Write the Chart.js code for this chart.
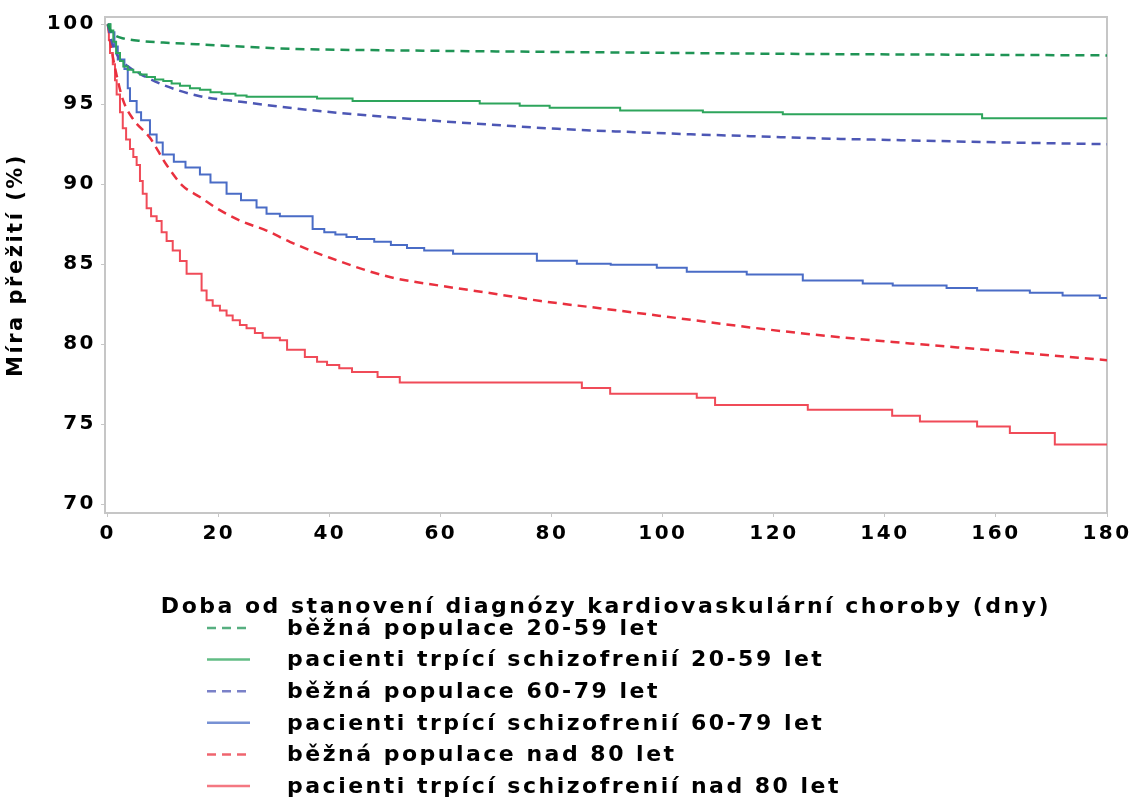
<!DOCTYPE html>
<html>
<head>
<meta charset="utf-8">
<script src="https://cdn.jsdelivr.net/npm/chart.js@4.4.1/dist/chart.umd.min.js"></script>
<style>
  html, body { margin: 0; padding: 0; background: #fff; }
</style>
</head>
<body>
<canvas id="km_chart" width="1135" height="802"></canvas>
<script>
// axis ticks
const xTicks = [0, 20, 40, 60, 80, 100, 120, 140, 160, 180];
const yTicks = [70, 75, 80, 85, 90, 95, 100];

// běžná populace 20-59 let (smooth curve)
const daysPop2059 = [0, 0.5, 1.3, 3, 6, 10, 16, 25, 34, 50, 70, 90, 110, 130, 150, 180];
const survPop2059 = [100, 99.6, 99.3, 99.1, 98.95, 98.85, 98.75, 98.58, 98.45, 98.37, 98.3, 98.24, 98.18, 98.13, 98.1, 98.05];

// pacienti trpící schizofrenií 20-59 let (steps)
const daysSch2059 = [0, 0.5, 1, 1.5, 2.2, 2.8, 3.6, 4.6, 5.8, 7, 8.5, 10, 11.5, 13, 14.8, 16.6, 18.5, 20.5, 23, 25, 37.7, 44.1, 67, 74.2, 79.6, 92.3, 107.2, 121.6, 157.5, 180];
const survSch2059 = [100, 99.6, 98.9, 98.2, 97.7, 97.35, 97.15, 97.0, 96.85, 96.7, 96.55, 96.45, 96.3, 96.15, 96.0, 95.9, 95.75, 95.65, 95.55, 95.47, 95.36, 95.2, 95.05, 94.9, 94.78, 94.6, 94.49, 94.37, 94.12, 94.12];

// běžná populace 60-79 let
const daysPop6079 = [0, 0.5, 1, 2, 3.5, 5.8, 10, 16.6, 24, 34.6, 45, 56.8, 70, 81, 93, 105, 116, 126.5, 143, 160, 180];
const survPop6079 = [100, 99.2, 98.6, 97.9, 97.4, 96.9, 96.2, 95.5, 95.15, 94.7, 94.35, 94.02, 93.7, 93.46, 93.28, 93.12, 93.0, 92.88, 92.75, 92.62, 92.5];

// pacienti trpící schizofrenií 60-79 let
const daysSch6079 = [0, 0.4, 1.2, 1.8, 3, 3.6, 4, 5.2, 6, 7.6, 8.8, 9.9, 11.9, 14, 16.6, 18.5, 21.4, 24, 26.8, 28.6, 31, 32.8, 36.9, 39, 41, 43, 44.9, 48, 51, 53.9, 57, 62.2, 77.3, 84.5, 90.6, 98.9, 104.3, 115.1, 125.2, 136, 141.4, 151.1, 156.6, 166.1, 172, 178.7, 180];
const survSch6079 = [100, 99.5, 98.6, 97.8, 97.2, 96.0, 95.2, 94.5, 94.0, 93.1, 92.6, 91.85, 91.4, 91.05, 90.6, 90.1, 89.4, 89.0, 88.55, 88.15, 88.0, 88.0, 87.2, 87.0, 86.85, 86.7, 86.58, 86.4, 86.2, 86.02, 85.85, 85.65, 85.22, 85.03, 84.97, 84.78, 84.53, 84.35, 83.98, 83.79, 83.67, 83.52, 83.35, 83.21, 83.04, 82.88, 82.88];

// běžná populace nad 80 let
const daysPop80 = [0, 0.5, 1, 1.6, 2.7, 4.5, 7.6, 10.6, 13.5, 16.6, 19.6, 24, 28.6, 32.8, 40, 50.8, 60, 68.8, 78, 88.6, 100, 115.7, 130, 144.5, 160, 180];
const survPop80 = [100, 98.8, 97.8, 96.8, 95.3, 94.1, 92.9, 91.2, 89.9, 89.2, 88.5, 87.7, 87.1, 86.4, 85.4, 84.2, 83.65, 83.2, 82.7, 82.25, 81.75, 81.05, 80.5, 80.05, 79.6, 79.0];

// pacienti trpící schizofrenií nad 80 let
const daysSch80 = [0, 0.2, 0.4, 0.9, 1.3, 1.6, 2.2, 2.7, 3.3, 4, 4.6, 5.2, 5.8, 6.3, 7, 7.8, 8.8, 9.7, 10.6, 11.7, 13, 14.2, 16.9, 17.8, 18.9, 20.2, 21.4, 22.5, 23.8, 25, 26.5, 27.9, 31, 32.3, 35.5, 37.7, 39.5, 41.7, 44, 48.6, 52.6, 85.4, 90.5, 106.1, 109.4, 126.1, 141.3, 146.3, 156.6, 162.5, 170.6, 180];
const survSch80 = [100, 99.0, 98.2, 97.5, 96.5, 95.6, 94.5, 93.5, 92.8, 92.2, 91.7, 91.2, 90.2, 89.4, 88.5, 88.0, 87.7, 87.0, 86.45, 85.85, 85.2, 84.4, 83.35, 82.75, 82.4, 82.1, 81.8, 81.5, 81.2, 81.0, 80.7, 80.4, 80.25, 79.65, 79.2, 78.9, 78.7, 78.5, 78.26, 77.95, 77.6, 77.27, 76.9, 76.65, 76.2, 75.9, 75.53, 75.17, 74.86, 74.45, 73.73, 73.73];

const FONT = '"DejaVu Sans", "Liberation Sans", sans-serif';
const SPACING = '2.5px';

function toPoints(days, vals) {
    return days.map((d, i) => ({ x: d, y: vals[i] }));
}

function smoothLine(label, days, vals, color) {
    return {
        label: label,
        data: toPoints(days, vals),
        borderColor: color,
        borderWidth: 2.5,
        borderDash: [9, 6],
        cubicInterpolationMode: 'monotone',
        pointRadius: 0,
        fill: false
    };
}

function stepLine(label, days, vals, color) {
    return {
        label: label,
        data: toPoints(days, vals),
        borderColor: color,
        borderWidth: 2,
        stepped: true,
        pointRadius: 0,
        fill: false
    };
}

const datasets = [
    smoothLine('běžná populace 20-59 let', daysPop2059, survPop2059, '#1f9455'),
    stepLine('pacienti trpící schizofrenií 20-59 let', daysSch2059, survSch2059, '#2ea55c'),
    smoothLine('běžná populace 60-79 let', daysPop6079, survPop6079, '#4d57b5'),
    stepLine('pacienti trpící schizofrenií 60-79 let', daysSch6079, survSch6079, '#4a6cc6'),
    smoothLine('běžná populace nad 80 let', daysPop80, survPop80, '#e9303e'),
    stepLine('pacienti trpící schizofrenií nad 80 let', daysSch80, survSch80, '#f04b58')
];

// the labels in the picture are wide, spread the letters a bit
const wideText = {
    id: 'wideText',
    beforeDraw(chart) { chart.ctx.letterSpacing = SPACING; },
    beforeDatasetsDraw(chart) { chart.ctx.letterSpacing = '0px'; }
};

// grey box round the plot area
const frame = {
    id: 'frame',
    beforeDatasetsDraw(chart) {
        const { ctx, chartArea: a } = chart;
        ctx.save();
        ctx.strokeStyle = '#c6c6c6';
        ctx.lineWidth = 2;
        ctx.strokeRect(a.left, a.top, a.right - a.left, a.bottom - a.top);
        ctx.restore();
    }
};

// legend stacked one per row under the axis title
const legendRows = {
    id: 'legendRows',
    afterDraw(chart) {
        const ctx = chart.ctx;
        chart.data.datasets.forEach((ds, i) => {
            const y = 628 + i * 31.6;
            ctx.save();
            ctx.globalAlpha = 0.75;
            ctx.strokeStyle = ds.borderColor;
            ctx.lineWidth = 2.5;
            ctx.setLineDash(ds.borderDash || []);
            ctx.beginPath();
            ctx.moveTo(207, y);
            ctx.lineTo(250, y);
            ctx.stroke();
            ctx.restore();
            ctx.save();
            ctx.fillStyle = '#000';
            ctx.font = 'bold 22px ' + FONT;
            ctx.letterSpacing = SPACING;
            ctx.textBaseline = 'middle';
            ctx.fillText(ds.label, 287, y + 1);
            ctx.restore();
        });
    }
};

const ctx = document.getElementById('km_chart');

new Chart(ctx, {
    type: 'line',
    data: { datasets: datasets },
    options: {
        responsive: false,
        animation: false,
        layout: { padding: { left: 0, top: 15, right: 28, bottom: 182 } },
        plugins: {
            legend: { display: false },
            tooltip: { enabled: false }
        },
        scales: {
            x: {
                type: 'linear',
                min: -0.5,
                max: 180,
                afterBuildTicks: (s) => { s.ticks = xTicks.map(v => ({ value: v })); },
                afterFit: (s) => { s.height = 107; },
                grid: { drawOnChartArea: false, tickLength: 4, color: '#c6c6c6' },
                border: { display: false },
                ticks: {
                    color: '#000',
                    padding: 5,
                    maxRotation: 0,
                    font: { family: FONT, size: 20, weight: 'bold' }
                },
                title: {
                    display: true,
                    text: 'Doba od stanovení diagnózy kardiovaskulární choroby (dny)',
                    color: '#000',
                    padding: { top: 0, bottom: 0 },
                    font: { family: FONT, size: 22, weight: 'bold' }
                }
            },
            y: {
                min: 69.45,
                max: 100.45,
                afterBuildTicks: (s) => { s.ticks = yTicks.map(v => ({ value: v })); },
                afterFit: (s) => { s.width = 105; },
                grid: { drawOnChartArea: false, tickLength: 4, color: '#c6c6c6' },
                border: { display: false },
                ticks: {
                    color: '#000',
                    padding: 5,
                    font: { family: FONT, size: 20, weight: 'bold' }
                },
                title: {
                    display: true,
                    text: 'Míra přežití (%)',
                    color: '#000',
                    padding: { top: 4, bottom: 0 },
                    font: { family: FONT, size: 21, weight: 'bold' }
                }
            }
        }
    },
    plugins: [wideText, frame, legendRows]
});
</script>
</body>
</html>
